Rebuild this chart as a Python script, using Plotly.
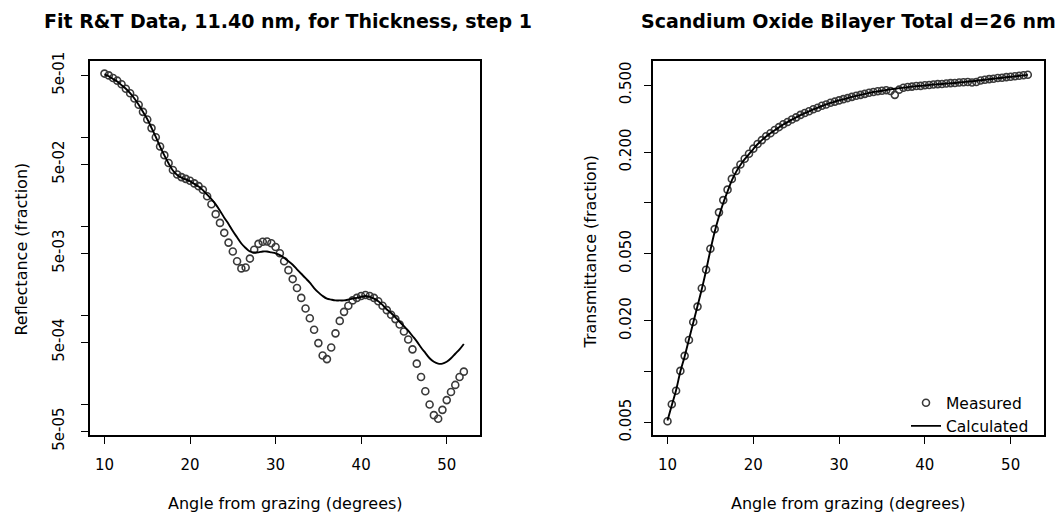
import plotly.graph_objects as go

# Incidence angle grid (degrees from grazing)
angles = [10.0, 10.5, 11.0, 11.5, 12.0, 12.5, 13.0, 13.5, 14.0, 14.5,
          15.0, 15.5, 16.0, 16.5, 17.0, 17.5, 18.0, 18.5, 19.0, 19.5,
          20.0, 20.5, 21.0, 21.5, 22.0, 22.5, 23.0, 23.5, 24.0, 24.5,
          25.0, 25.5, 26.0, 26.5, 27.0, 27.5, 28.0, 28.5, 29.0, 29.5,
          30.0, 30.5, 31.0, 31.5, 32.0, 32.5, 33.0, 33.5, 34.0, 34.5,
          35.0, 35.5, 36.0, 36.5, 37.0, 37.5, 38.0, 38.5, 39.0, 39.5,
          40.0, 40.5, 41.0, 41.5, 42.0, 42.5, 43.0, 43.5, 44.0, 44.5,
          45.0, 45.5, 46.0, 46.5, 47.0, 47.5, 48.0, 48.5, 49.0, 49.5,
          50.0, 50.5, 51.0, 51.5, 52.0]

# Reflectance (fraction)
refl_measured = [0.525, 0.501, 0.468, 0.437, 0.398, 0.355, 0.316, 0.275, 0.234, 0.195,
                 0.160, 0.128, 0.101, 0.0794, 0.0636, 0.0518, 0.0432, 0.0385, 0.0360, 0.0344,
                 0.0328, 0.0306, 0.0285, 0.0260, 0.0219, 0.0178, 0.0138, 0.0110, 0.00851, 0.00661,
                 0.00525, 0.00407, 0.00339, 0.00347, 0.00437, 0.00550, 0.00640, 0.00676, 0.00680, 0.00650,
                 0.00590, 0.00501, 0.00407, 0.00324, 0.00257, 0.00204, 0.00158, 0.00120, 0.000933, 0.000692,
                 0.000490, 0.000355, 0.000324, 0.000437, 0.000631, 0.000871, 0.00110, 0.00129, 0.00148, 0.00158,
                 0.00166, 0.00170, 0.00166, 0.00158, 0.00145, 0.00129, 0.00115, 0.00102, 0.000912, 0.000794,
                 0.000661, 0.000537, 0.000417, 0.000288, 0.000204, 0.000141, 0.000100, 0.0000759, 0.0000692, 0.0000871,
                 0.000112, 0.000138, 0.000166, 0.000204, 0.000234]

refl_calculated = [0.513, 0.490, 0.457, 0.427, 0.389, 0.355, 0.316, 0.275, 0.234, 0.195,
                   0.162, 0.129, 0.102, 0.0794, 0.0631, 0.0513, 0.0427, 0.0380, 0.0355, 0.0339,
                   0.0324, 0.0302, 0.0282, 0.0257, 0.0229, 0.0204, 0.0178, 0.0151, 0.0126, 0.0107,
                   0.00891, 0.00759, 0.00646, 0.00575, 0.00525, 0.00513, 0.00513, 0.00525, 0.00525, 0.00513,
                   0.00501, 0.00479, 0.00447, 0.00407, 0.00372, 0.00331, 0.00295, 0.00263, 0.00234, 0.00204,
                   0.00182, 0.00166, 0.00155, 0.00151, 0.00148, 0.00148, 0.00148, 0.00151, 0.00155, 0.00158,
                   0.00162, 0.00166, 0.00162, 0.00155, 0.00145, 0.00132, 0.00117, 0.00107, 0.000955, 0.000851,
                   0.000759, 0.000676, 0.000589, 0.000513, 0.000437, 0.000380, 0.000331, 0.000302, 0.000288, 0.000288,
                   0.000302, 0.000331, 0.000372, 0.000417, 0.000479]

# Transmittance (fraction)
trans_measured = [0.00508, 0.00640, 0.00770, 0.0101, 0.0124, 0.0154, 0.0197, 0.0243, 0.0312, 0.0402,
                  0.0535, 0.0700, 0.0880, 0.104, 0.120, 0.139, 0.155, 0.169, 0.183, 0.196,
                  0.210, 0.224, 0.236, 0.249, 0.259, 0.271, 0.282, 0.293, 0.302, 0.313,
                  0.322, 0.333, 0.342, 0.350, 0.360, 0.367, 0.377, 0.384, 0.393, 0.399,
                  0.406, 0.413, 0.419, 0.426, 0.433, 0.438, 0.444, 0.451, 0.455, 0.460,
                  0.463, 0.466, 0.462, 0.438, 0.470, 0.483, 0.487, 0.490, 0.494, 0.495,
                  0.499, 0.501, 0.504, 0.507, 0.508, 0.511, 0.514, 0.515, 0.518, 0.520,
                  0.522, 0.518, 0.522, 0.533, 0.538, 0.543, 0.546, 0.551, 0.553, 0.558,
                  0.561, 0.565, 0.568, 0.572, 0.576]

trans_calculated = [0.00513, 0.00631, 0.00776, 0.0100, 0.0123, 0.0155, 0.0195, 0.0245, 0.0309, 0.0398,
                    0.0525, 0.0676, 0.0832, 0.100, 0.117, 0.136, 0.153, 0.168, 0.182, 0.195,
                    0.209, 0.223, 0.236, 0.248, 0.259, 0.270, 0.281, 0.292, 0.302, 0.312,
                    0.322, 0.332, 0.341, 0.350, 0.359, 0.367, 0.376, 0.384, 0.392, 0.399,
                    0.406, 0.412, 0.419, 0.426, 0.432, 0.438, 0.444, 0.450, 0.455, 0.459,
                    0.463, 0.468, 0.472, 0.476, 0.480, 0.483, 0.486, 0.490, 0.493, 0.495,
                    0.498, 0.501, 0.504, 0.506, 0.508, 0.511, 0.513, 0.515, 0.519, 0.521,
                    0.525, 0.527, 0.531, 0.535, 0.538, 0.542, 0.546, 0.550, 0.553, 0.557,
                    0.560, 0.564, 0.568, 0.571, 0.575]

x_ticks = [10, 20, 30, 40, 50]
refl_tickvals = [5e-01, 1e-01, 5e-02, 1e-02, 5e-03, 1e-03, 5e-04, 1e-04, 5e-05]
refl_ticktext = ["5e-01", "", "5e-02", "", "5e-03", "", "5e-04", "", "5e-05"]
trans_tickvals = [0.5, 0.2, 0.1, 0.05, 0.02, 0.01, 0.005]
trans_ticktext = ["0.500", "0.200", "", "0.050", "0.020", "", "0.005"]

W, H = 1063, 532
FONT = "DejaVu Sans, Liberation Sans, sans-serif"


def px_x(p):
    return p / W


def px_y(p):
    return 1 - p / H


fig = go.Figure()

point_style = dict(symbol="circle-open", size=7, color="#3a3a3a", line=dict(width=1.6, color="#3a3a3a"))
line_style = dict(color="black", width=1.9)

fig.add_trace(go.Scatter(x=angles, y=refl_measured, mode="markers", marker=point_style,
                         xaxis="x", yaxis="y", showlegend=False))
fig.add_trace(go.Scatter(x=angles, y=refl_calculated, mode="lines", line=dict(shape="spline", **line_style),
                         xaxis="x", yaxis="y", showlegend=False))
fig.add_trace(go.Scatter(x=angles, y=trans_measured, mode="markers", marker=point_style,
                         xaxis="x2", yaxis="y2", name="Measured"))
fig.add_trace(go.Scatter(x=angles, y=trans_calculated, mode="lines", line=dict(shape="spline", **line_style),
                         xaxis="x2", yaxis="y2", name="Calculated"))

axis_common = dict(showline=True, linecolor="black", linewidth=1.5, mirror=True,
                   ticks="outside", ticklen=7, tickwidth=1.2, tickcolor="black",
                   showgrid=False, zeroline=False,
                   tickfont=dict(family=FONT, size=15, color="black"))

y_dom = [px_y(447), px_y(55)]
# x range extends ~4% beyond the data on each side
x_range = [8.31, 53.89]

fig.update_layout(
    width=W, height=H,
    margin=dict(l=0, r=0, t=0, b=0),
    paper_bgcolor="white", plot_bgcolor="white",
    font=dict(family=FONT, color="black"),
    xaxis=dict(domain=[px_x(90), px_x(480)], range=x_range, tickvals=x_ticks,
               anchor="y", ticklabelstandoff=8, **axis_common),
    yaxis=dict(domain=y_dom, type="log", range=[-4.341, -0.133],
               tickvals=refl_tickvals, ticktext=refl_ticktext, tickangle=-90,
               anchor="x", ticklabelstandoff=11, **axis_common),
    xaxis2=dict(domain=[px_x(653), px_x(1044)], range=x_range, tickvals=x_ticks,
                anchor="y2", ticklabelstandoff=8, **axis_common),
    yaxis2=dict(domain=y_dom, type="log", range=[-2.375, -0.155],
                tickvals=trans_tickvals, ticktext=trans_ticktext, tickangle=-90,
                anchor="x2", ticklabelstandoff=7, **axis_common),
    legend=dict(x=px_x(906), y=px_y(396), xanchor="left", yanchor="top",
                bgcolor="rgba(0,0,0,0)", borderwidth=0,
                font=dict(family=FONT, size=15.5, color="black"),
                tracegroupgap=0, itemwidth=30),
)

annotations = [
    dict(text="<b>Fit R&amp;T Data, 11.40 nm, for Thickness, step 1</b>", x=px_x(288), y=px_y(14),
         font=dict(size=19)),
    dict(text="<b>Scandium Oxide Bilayer Total d=26 nm</b>", x=px_x(848), y=px_y(14),
         font=dict(size=19)),
    dict(text="Angle from grazing (degrees)", x=px_x(285), y=px_y(519), font=dict(size=16)),
    dict(text="Angle from grazing (degrees)", x=px_x(848), y=px_y(519), font=dict(size=16)),
    dict(text="Reflectance (fraction)", x=px_x(22), y=px_y(253), textangle=-90, font=dict(size=16)),
    dict(text="Transmittance (fraction)", x=px_x(590), y=px_y(256), textangle=-90, font=dict(size=16)),
]
for a in annotations:
    a.update(xref="paper", yref="paper", showarrow=False, xanchor="center", yanchor="middle")
    a["font"].update(family=FONT, color="black")
fig.update_layout(annotations=annotations)

fig.write_html("out.html")
